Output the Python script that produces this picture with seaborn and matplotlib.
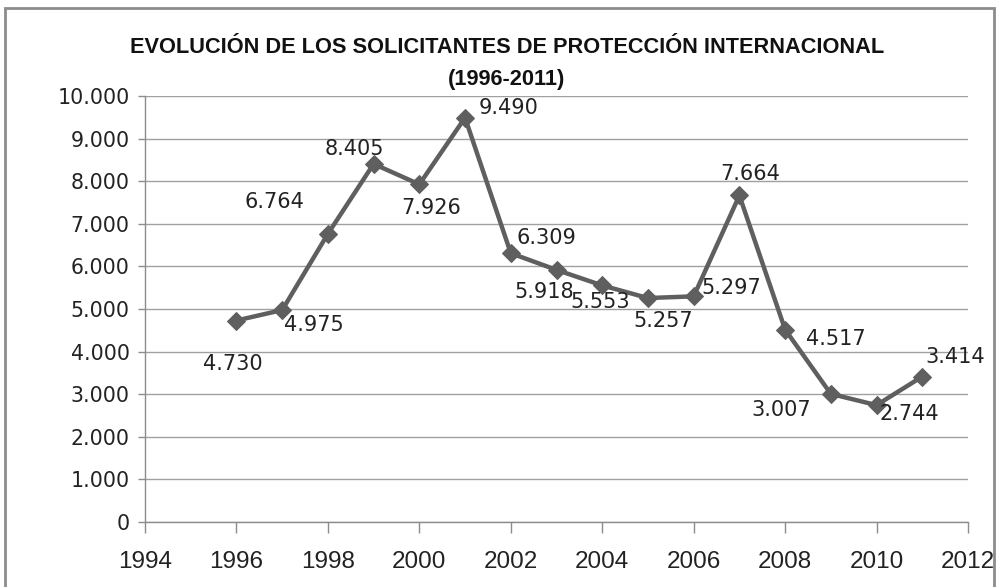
import matplotlib
matplotlib.use("Agg")
import matplotlib.pyplot as plt
import seaborn as sns
import pandas as pd
from matplotlib.ticker import FuncFormatter, MultipleLocator
from matplotlib.patches import Rectangle

years = [1996, 1997, 1998, 1999, 2000, 2001, 2002, 2003, 2004, 2005, 2006, 2007, 2008, 2009, 2010, 2011]
solicitantes = [4730, 4975, 6764, 8405, 7926, 9490, 6309, 5918, 5553, 5257, 5297, 7664, 4517, 3007, 2744, 3414]
label_offsets = [(-4, -43), (32, -15), (-53, 32), (-19, 15), (12, -24), (44, 10), (36, 15), (-12, -22),
                 (-2, -17), (15, -23), (38, 8), (11, 21), (51, -9), (-50, -16), (33, -9), (33, 20)]
title = "EVOLUCIÓN DE LOS SOLICITANTES DE PROTECCIÓN INTERNACIONAL\n(1996-2011)"

sns.set_style("white")
plt.rcParams['font.family'] = ['DejaVu Sans']

df = pd.DataFrame({"year": years, "value": solicitantes})

fig = plt.figure(figsize=(10, 5.87), dpi=100)
ax = fig.add_axes([0.145, 0.1107, 0.823, 0.7258])

sns.lineplot(data=df, x="year", y="value", ax=ax, color="#5f5f5f", linewidth=3.2,
             marker="D", markersize=9, markeredgecolor="#5f5f5f", markerfacecolor="#5f5f5f")

ax.set_xlim(1994, 2012)
ax.set_ylim(0, 10000)
ax.xaxis.set_major_locator(MultipleLocator(2))
ax.yaxis.set_major_locator(MultipleLocator(1000))
ax.yaxis.set_major_formatter(FuncFormatter(lambda v, p: f"{int(v):,}".replace(",", ".")))
ax.set_xlabel("")
ax.set_ylabel("")

ax.grid(axis="y", color="#a0a0a0", linewidth=1)
ax.grid(axis="x", visible=False)
for s in ["top", "right"]:
    ax.spines[s].set_visible(False)
for s in ["left", "bottom"]:
    ax.spines[s].set_color("#8c8c8c")
    ax.spines[s].set_linewidth(1)

ax.tick_params(axis="x", direction="out", length=8, width=1, color="#8c8c8c", labelsize=17.5,
               pad=13, labelcolor="#222222")
ax.tick_params(axis="y", direction="out", length=5, width=1, color="#8c8c8c", labelsize=14.8,
               pad=6, labelcolor="#222222")
ax.tick_params(left=True, bottom=True)
for lbl in ax.get_xticklabels():
    lbl.set_family("Liberation Sans")

for x, y, (dx, dy) in zip(years, solicitantes, label_offsets):
    ax.annotate(f"{y:,}".replace(",", "."), (x, y), xytext=(dx, dy), textcoords="offset pixels",
                ha="center", va="center", fontsize=15, color="#222222")

fig.text(0.507, 0.892, title, ha="center", va="center", fontsize=15.7, fontweight="bold",
         family="Liberation Sans", linespacing=1.7, color="#111111")

fig.patches.append(Rectangle((0.005, -0.05), 0.989, 1.036, transform=fig.transFigure,
                             fill=False, edgecolor="#8c8c8c", linewidth=2))

fig.savefig("out.png", dpi=100)
